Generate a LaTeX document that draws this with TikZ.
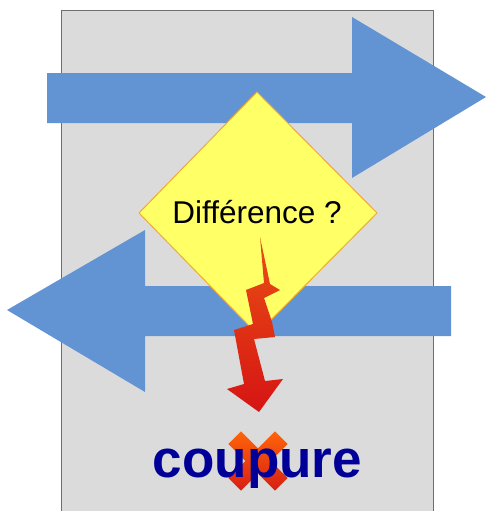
\documentclass[tikz,border=0pt]{standalone}
\usepackage{fontspec}
\setmainfont{Liberation Sans}
\begin{document}
\begin{tikzpicture}[x=1pt,y=-1pt,
  bluearrow/.style={fill=arrowblue, draw=none},
  panel/.style={fill=panelgray, draw=panelborder, line width=1pt}]
\definecolor{arrowblue}{RGB}{98,148,212}
\definecolor{panelgray}{RGB}{219,219,219}
\definecolor{panelborder}{RGB}{110,110,110}
\definecolor{diayellow}{RGB}{255,255,102}
\definecolor{diaborder}{RGB}{240,170,50}
\definecolor{boltorange}{RGB}{232,80,20}
\definecolor{boltred}{RGB}{214,20,20}
\definecolor{crossorange}{RGB}{255,100,10}
\definecolor{crossred}{RGB}{215,30,20}
\definecolor{textblue}{RGB}{0,0,153}
\useasboundingbox (0,0) rectangle (486,511);
% panel
\path[panel] (61,512) -- (61,11) -- (433,11) -- (433,512);
% top arrow (to the right)
\path[bluearrow] (47,73) -- (352,73) -- (352,17) -- (486,97) -- (352,178) -- (352,123) -- (47,123) -- cycle;
% bottom arrow (to the left)
\path[bluearrow] (451,286) -- (145,286) -- (145,230) -- (7,310) -- (145,392) -- (145,336) -- (451,336) -- cycle;
% diamond
\path[fill=diayellow, draw=diaborder, line width=1pt] (257,92) -- (377,213) -- (257,334) -- (139,213) -- cycle;
\node[anchor=base, inner sep=0pt, font=\fontsize{31.5}{36}\selectfont] (diff) at (257,223) {Différence ?};
% lightning bolt
\path[top color=boltorange, bottom color=boltred, draw=none]
  (260,237) -- (270,284) -- (280,290) -- (264,298) -- (272,322) -- (275,337) -- (254,339)
  -- (265,381) -- (283,379) -- (259,412) -- (227,389) -- (244,384) -- (234,330)
  -- (253,324) -- (246,290) -- (264,283) -- cycle;
% cross
\begin{scope}[shift={(258,461)}]
  \path[top color=crossorange, bottom color=crossred, rotate=45] (-33,-9) rectangle (33,9);
  \path[top color=crossorange, bottom color=crossred, rotate=-45] (-33,-9) rectangle (33,9);
\end{scope}
\node[anchor=base, inner sep=0pt, text=textblue, font=\bfseries\fontsize{53}{60}\selectfont] (coup) at (257.5,477) {coupure};
\end{tikzpicture}
\end{document}
